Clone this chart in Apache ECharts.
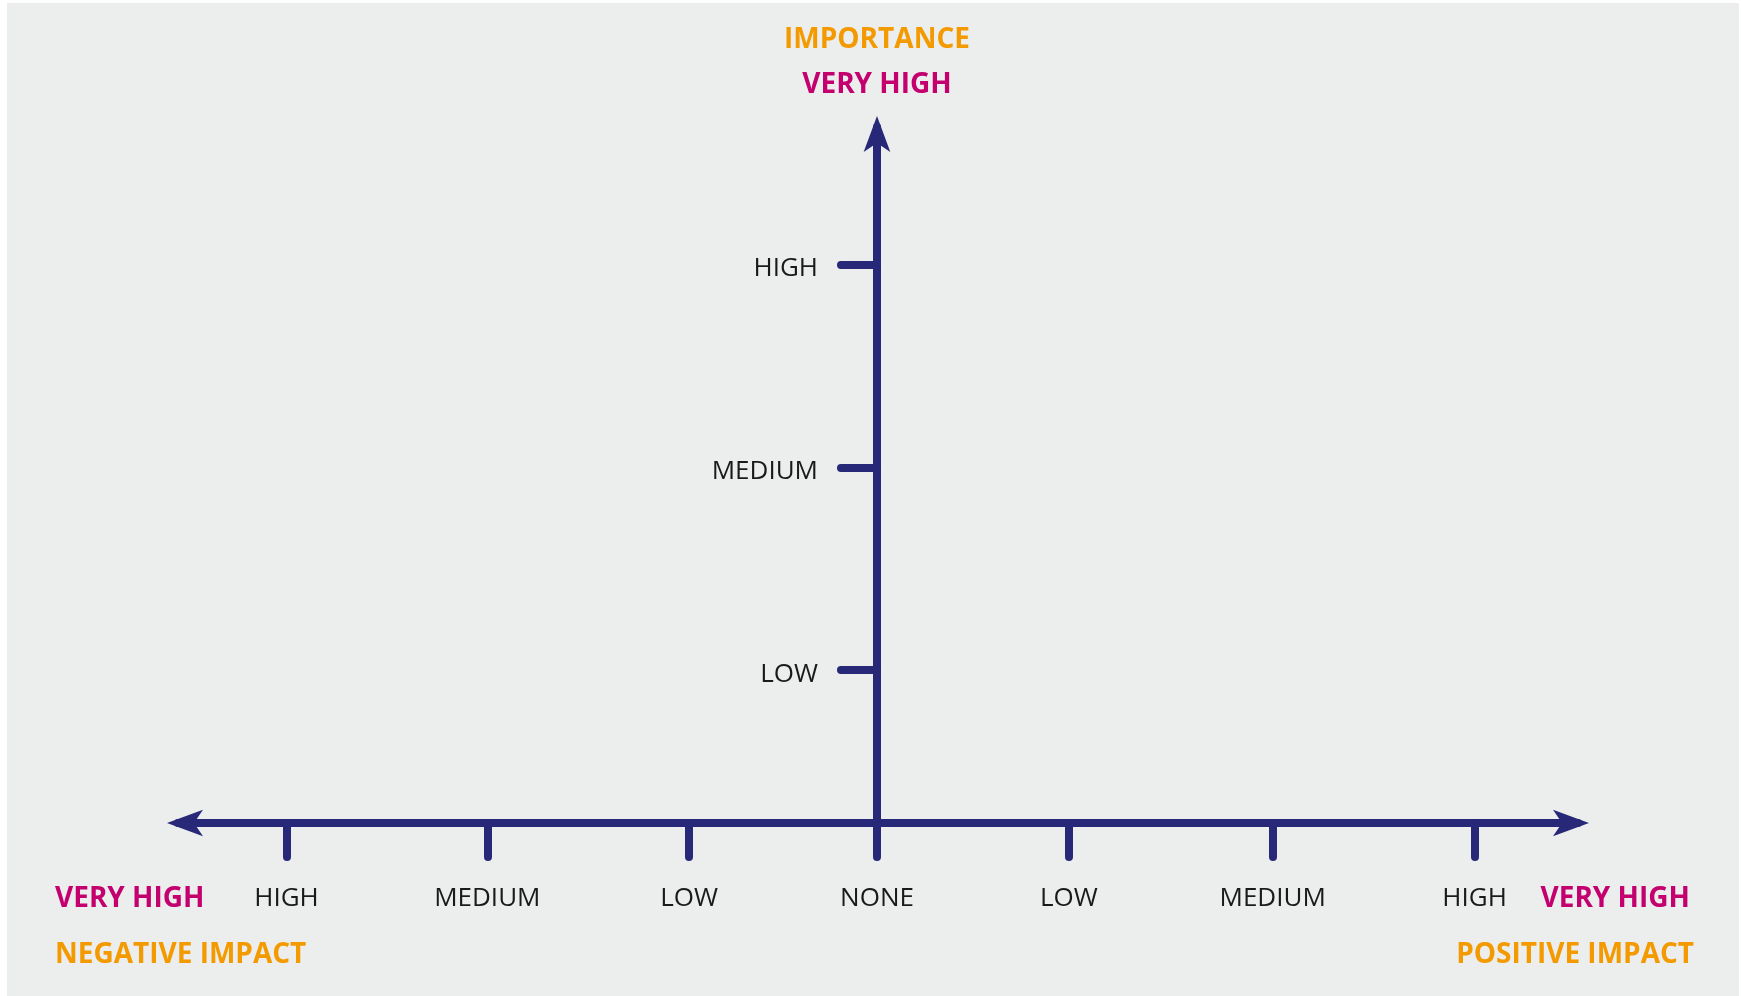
<!DOCTYPE html>
<html><head><meta charset="utf-8">
<script src="https://cdn.jsdelivr.net/npm/echarts@6/dist/echarts.min.js"></script>
<style>html,body{margin:0;padding:0;background:#ffffff;}#c{width:1741px;height:996px;}</style>
</head><body><div id="c"></div>
<script>
// Horizontal axis: impact (negative <- NONE -> positive)
const xTickPos = [-2.94, -1.94, -0.935, 0, 0.955, 1.97, 2.975];
const xTickLabels = ['HIGH', 'MEDIUM', 'LOW', 'NONE', 'LOW', 'MEDIUM', 'HIGH'];
const xRange = [-3.48, 3.49];
// Vertical axis: importance
const yTickPos = [0.763, 1.77, 2.78];
const yTickLabels = ['LOW', 'MEDIUM', 'HIGH'];
const yRange = [0, 3.465];
// Outer titles
const yAxisTitle = ['IMPORTANCE', 'VERY HIGH'];
const xEndLabels = ['VERY HIGH', 'VERY HIGH'];
const xAxisTitles = ['NEGATIVE IMPACT', 'POSITIVE IMPACT'];

const NAVY = '#272878', ORANGE = '#F39A00', PINK = '#C4006F', PANEL = '#ECEDED';
const FONT = '"Open Sans", "Noto Sans", sans-serif';

const gridLeft = 178, gridRight = 163, gridTop = 127, gridBottom = 173;
const W = 1741;
const gridW = W - gridLeft - gridRight;
const yAxisOffset = -((0 - xRange[0]) / (xRange[1] - xRange[0])) * gridW;

const chart = echarts.init(document.getElementById('c'), null, {renderer: 'canvas'});

function boldText(text, x, y, color, align) {
  return {
    type: 'text', z: 10,
    style: {
      text: text, x: x, y: y, fill: color,
      font: 'bold 28px ' + FONT,
      textAlign: align, textVerticalAlign: 'middle'
    }
  };
}

const option = {
  backgroundColor: '#ffffff',
  animation: false,
  grid: {left: gridLeft, right: gridRight, top: gridTop, bottom: gridBottom, outerBoundsMode: 'none', containLabel: false},
  xAxis: {
    type: 'value', min: xRange[0], max: xRange[1], position: 'bottom',
    axisLine: {show: true, onZero: false, symbol: ['arrow', 'arrow'], symbolSize: [20, 36], symbolOffset: [-11, 11],
      lineStyle: {color: NAVY, width: 8}},
    axisTick: {show: true, customValues: xTickPos, length: 34, inside: false,
      lineStyle: {color: NAVY, width: 8, cap: 'round'}},
    axisLabel: {show: true, customValues: xTickPos, margin: 63,
      color: '#1a1a1a', fontFamily: FONT, fontSize: 26, lineHeight: 26,
      formatter: function (v) { const i = xTickPos.indexOf(v); return i >= 0 ? xTickLabels[i] : ''; }},
    splitLine: {show: false}
  },
  yAxis: {
    type: 'value', min: yRange[0], max: yRange[1], position: 'left', offset: yAxisOffset,
    axisLine: {show: true, onZero: false, symbol: ['none', 'arrow'], symbolSize: [20, 36], symbolOffset: [0, 11],
      lineStyle: {color: NAVY, width: 8}},
    axisTick: {show: true, customValues: yTickPos, length: 36, inside: false,
      lineStyle: {color: NAVY, width: 8, cap: 'round'}},
    axisLabel: {show: true, customValues: yTickPos, margin: 59, verticalAlign: 'top',
      color: '#1a1a1a', fontFamily: FONT, fontSize: 26, lineHeight: 9,
      formatter: function (v) { const i = yTickPos.indexOf(v); return i >= 0 ? yTickLabels[i] : ''; }},
    splitLine: {show: false}
  },
  series: [{type: 'scatter', data: [], silent: true}],
  graphic: [
    {type: 'rect', z: -100, silent: true, shape: {x: 7, y: 3, width: 1732, height: 993}, style: {fill: PANEL}},
    boldText(yAxisTitle[0], 877, 40.5, ORANGE, 'center'),
    boldText(yAxisTitle[1], 877, 85.5, PINK, 'center'),
    boldText(xEndLabels[0], 55, 899, PINK, 'left'),
    boldText(xEndLabels[1], 1690, 899, PINK, 'right'),
    boldText(xAxisTitles[0], 55, 955, ORANGE, 'left'),
    boldText(xAxisTitles[1], 1694, 955, ORANGE, 'right')
  ]
};
chart.setOption(option);
</script>
</body></html>
